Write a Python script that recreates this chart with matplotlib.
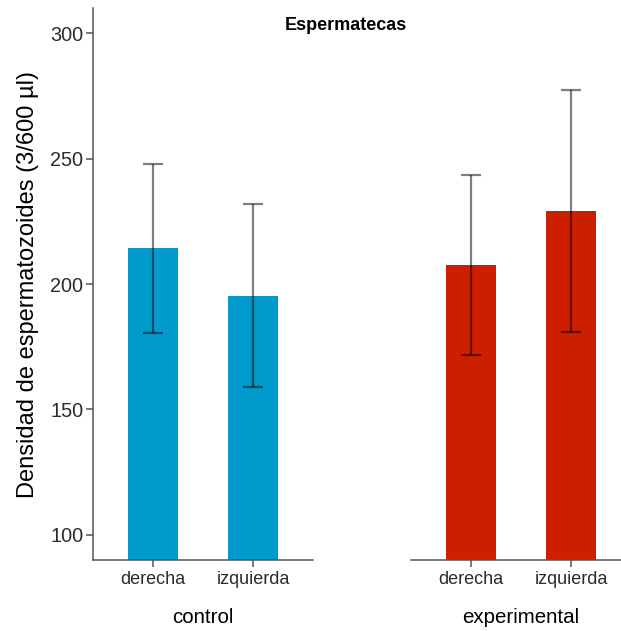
import matplotlib
matplotlib.use("Agg")
import matplotlib.pyplot as plt

plt.rcParams["font.family"] = ["Liberation Sans", "DejaVu Sans"]

# Sperm density in the spermathecae, by treatment and side
groups = ["control", "experimental"]
sides = ["derecha", "izquierda"]
means_control = [214.2, 195.4]
means_experimental = [207.5, 229.0]
err_control = [33.6, 36.4]
err_experimental = [35.9, 48.2]
bar_colors = {"control": "#009ACD", "experimental": "#CC1F00"}
y_ticks = [100, 150, 200, 250, 300]

means = {"control": means_control, "experimental": means_experimental}
errs = {"control": err_control, "experimental": err_experimental}

W, H = 621, 631
fig = plt.figure(figsize=(W / 100, H / 100), dpi=100)

top_px, bottom_px = 8, 560
panels_px = {"control": (93, 313), "experimental": (411, 631)}
axis_color = "#555555"
tick_label_color = "#2B2B2B"

axes = {}
for g in groups:
    x0, x1 = panels_px[g]
    ax = fig.add_axes([x0 / W, 1 - bottom_px / H, (x1 - x0) / W, (bottom_px - top_px) / H])
    axes[g] = ax
    xs = list(range(1, len(sides) + 1))
    ax.bar(xs, means[g], width=0.5, color=bar_colors[g], zorder=2)
    ax.errorbar(xs, means[g], yerr=errs[g], fmt="none", ecolor="black",
                elinewidth=1.6, capsize=7.2, capthick=1.6, alpha=0.5, zorder=3)
    ax.set_xlim(0.4, 2.6)
    ax.set_ylim(90, 310)
    ax.set_xticks(xs)
    ax.set_xticklabels(sides, fontsize=13, color=tick_label_color)
    for s in ("top", "right"):
        ax.spines[s].set_visible(False)
    ax.spines["bottom"].set_color(axis_color)
    ax.spines["bottom"].set_linewidth(1.1)
    ax.tick_params(axis="x", length=5, width=1.1, color=axis_color, pad=3)
    ax.set_xlabel(g, fontsize=14.8, labelpad=14)
    ax.set_facecolor("none")

left = axes["control"]
left.spines["left"].set_color(axis_color)
left.spines["left"].set_linewidth(1.1)
left.set_yticks(y_ticks)
left.set_yticklabels([str(v) for v in y_ticks], fontsize=14.3, color=tick_label_color)
left.tick_params(axis="y", length=5, width=1.1, color=axis_color, pad=2)
left.set_ylabel("Densidad de espermatozoides (3/600 µl)", fontsize=17, labelpad=8)

right = axes["experimental"]
right.spines["left"].set_visible(False)
right.set_yticks([])

fig.text(346 / W, 1 - 25 / H, "Espermatecas", ha="center", va="center",
         fontsize=13, fontweight="bold")

fig.savefig("out.png", dpi=100, facecolor="white")
